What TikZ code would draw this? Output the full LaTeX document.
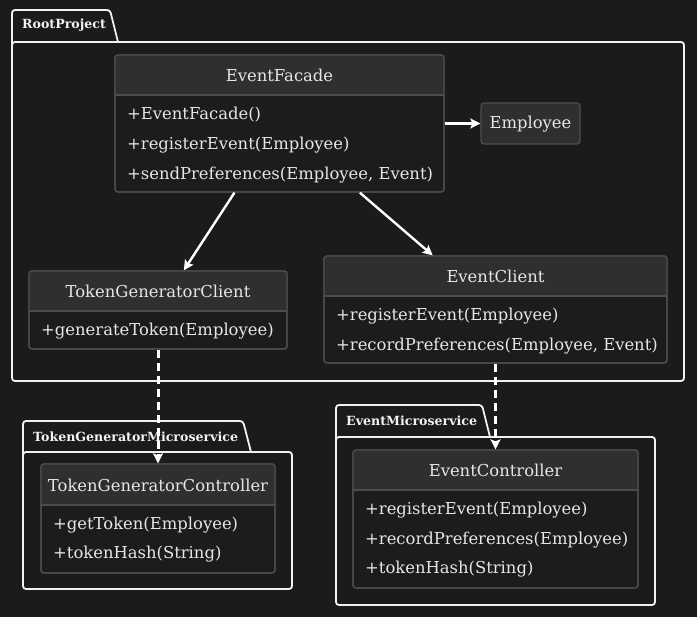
\documentclass[tikz,border=0pt]{standalone}
\usepackage{fontspec}
\setmainfont{DejaVu Serif}
\usetikzlibrary{arrows.meta,fit}
\definecolor{bgc}{HTML}{1B1C1A}
\definecolor{hdrc}{HTML}{2F2F2F}
\definecolor{bodyc}{HTML}{1C1D1B}
\definecolor{brdc}{HTML}{4D4D4D}
\definecolor{txtc}{HTML}{E6E6E6}
\definecolor{pkgc}{HTML}{F2F2F2}
\tikzset{
  clsnode/.style={fit={#1}, inner sep=0pt, fill=bodyc, draw=brdc, line width=1.3pt, rounded corners=3pt},
  clsline/.style={draw=brdc, line width=1.3pt},
  mem/.style={anchor=west, inner sep=0pt, text=txtc, font=\fontsize{16.4}{18}\selectfont},
  cname/.style={anchor=center, inner sep=0pt, text=txtc, font=\fontsize{16.4}{18}\selectfont},
  pkgline/.style={draw=pkgc, line width=1.8pt, rounded corners=3pt},
  pkgbody/.style={fit={#1}, inner sep=0pt, draw=pkgc, line width=1.8pt, rounded corners=3pt},
  pkglabel/.style={anchor=west, inner sep=0pt, text=pkgc, font=\fontsize{12.6}{14}\bfseries\selectfont},
  assoc/.style={draw=white, line width=2.4pt, -{Stealth[length=10pt,width=10pt,inset=2pt]}},
  dep/.style={draw=white, line width=3pt, dash pattern=on 8pt off 5pt, -{Stealth[length=10pt,width=10pt,inset=2pt]}},
}
\newcommand\umlcls[6]{%
  \node[clsnode={(#2,#3) (#4,#5)}] (#1) {};
  \begin{scope}
    \clip[rounded corners=3pt] (#2,#3) rectangle (#4,#5);
    \fill[hdrc] (#2,#3) rectangle (#4,#6);
  \end{scope}
  \draw[clsline] (#2,#6) -- (#4,#6);
  \draw[clsline, rounded corners=3pt] (#2,#3) rectangle (#4,#5);
}
\begin{document}
\begin{tikzpicture}[x=1pt,y=-1pt]
\fill[bgc] (0,0) rectangle (697,617);
\useasboundingbox (0,0) rectangle (697,617);

% packages
\draw[pkgline] (12,44) -- (12,10) -- (110,10) -- (118,42);
\node[pkgbody={(12,42) (684,381)}] (root) {};
\node[pkglabel] (rootlbl) at (22,25.5) {RootProject};

\draw[pkgline] (23,454) -- (23,421) -- (243,421) -- (251,452);
\node[pkgbody={(23,452) (292,589)}] (tgm) {};
\node[pkglabel] (tgmlbl) at (33,436.5) {TokenGeneratorMicroservice};

\draw[pkgline] (336,439) -- (336,405) -- (482,405) -- (490,437);
\node[pkgbody={(336,437) (655,605)}] (em) {};
\node[pkglabel] (emlbl) at (346,420.5) {EventMicroservice};

% EventFacade
\umlcls{ef}{115}{55}{444}{192}{95}
\node[cname] (efn) at (279.5,75.5) {EventFacade};
\node[mem] (ef1) at (127,115) {+EventFacade()};
\node[mem] (ef2) at (127,145) {+registerEvent(Employee)};
\node[mem] (ef3) at (127,175) {+sendPreferences(Employee, Event)};

% Employee
\node[fit={(481,103) (580,144)}, inner sep=0pt, fill=hdrc, draw=brdc, line width=1.3pt, rounded corners=3pt] (emp) {};
\node[cname] (empn) at ([yshift=-0.5pt]emp.center) {Employee};

% TokenGeneratorClient
\umlcls{tgc}{29}{271}{287}{349}{311}
\node[cname] (tgcn) at (158,291.5) {TokenGeneratorClient};
\node[mem] (tgc1) at (41,331) {+generateToken(Employee)};

% EventClient
\umlcls{ec}{324}{256}{667}{363}{296}
\node[cname] (ecn) at (495.5,276.5) {EventClient};
\node[mem] (ec1) at (336,316) {+registerEvent(Employee)};
\node[mem] (ec2) at (336,346) {+recordPreferences(Employee, Event)};

% TokenGeneratorController
\umlcls{tgct}{41}{464}{275}{573}{505}
\node[cname] (tgctn) at (158,485.5) {TokenGeneratorController};
\node[mem] (tgct1) at (53,525) {+getToken(Employee)};
\node[mem] (tgct2) at (53,554) {+tokenHash(String)};

% EventController
\umlcls{ect}{353}{450}{638}{588}{490}
\node[cname] (ectn) at (495.5,470.5) {EventController};
\node[mem] (ect1) at (365,510) {+registerEvent(Employee)};
\node[mem] (ect2) at (365,540) {+recordPreferences(Employee)};
\node[mem] (ect3) at (365,569) {+tokenHash(String)};

% connectors
\draw[assoc] (ef) -- (emp);
\draw[assoc] (ef) -- (tgc);
\draw[assoc] (ef) -- (ec);
\draw[dep] (tgc) -- (tgct);
\draw[dep] (ec) -- (ect);
\end{tikzpicture}
\end{document}
